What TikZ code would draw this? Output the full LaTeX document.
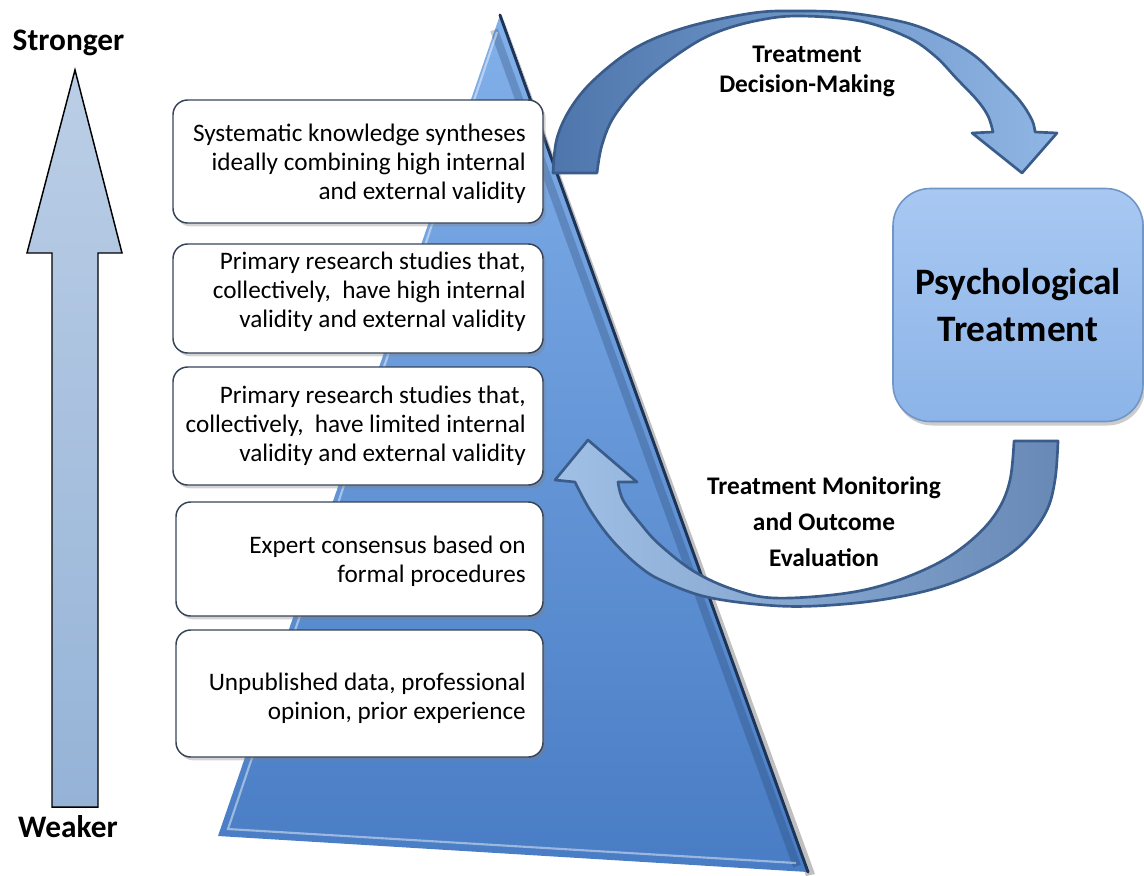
\documentclass[tikz,border=0pt]{standalone}
\usepackage{fontspec}
\setmainfont{Carlito}
\usetikzlibrary{shadows}
\definecolor{arrTop}{RGB}{187,206,230}
\definecolor{arrBot}{RGB}{149,179,215}
\definecolor{triTop}{RGB}{130,176,234}
\definecolor{triBot}{RGB}{72,124,196}
\definecolor{triEdge}{RGB}{28,52,88}
\definecolor{boxEdge}{RGB}{55,68,88}
\definecolor{cArrDark}{RGB}{78,118,172}
\definecolor{cArrLight}{RGB}{143,182,228}
\definecolor{cArrEdge}{RGB}{58,92,138}
\definecolor{cArrB1}{RGB}{160,192,230}
\definecolor{cArrB2}{RGB}{104,137,182}
\definecolor{psyTop}{RGB}{168,200,242}
\definecolor{psyBot}{RGB}{140,180,232}
\definecolor{psyEdge}{RGB}{112,150,200}
\tikzset{
  evbox/.style={draw=boxEdge, fill=white, line width=1.1pt, rounded corners=11pt,
    drop shadow={opacity=0.35, shadow xshift=2pt, shadow yshift=-2.5pt}},
  evtext/.style={anchor=east, align=right, inner sep=0pt,
    font=\fontsize{18.9}{21.75}\selectfont},
  lbl/.style={align=center, inner sep=0pt, font=\bfseries\fontsize{19}{22.5}\selectfont},
  curvarrow/.style={draw=cArrEdge, line width=2pt, line join=round},
}
\begin{document}
\begin{tikzpicture}[x=0.75pt,y=-0.75pt]
\useasboundingbox (0,0) rectangle (1144,875);

% strength arrow
\path[draw=black, line width=1.1pt, top color=arrTop, bottom color=arrBot, line join=miter]
  (75,70) -- (122,253) -- (98,253) -- (98,807) -- (52,807) -- (52,253) -- (27,253) -- cycle;
\node[anchor=base, inner sep=0pt, font=\bfseries\fontsize{23.5}{28}\selectfont] (strong) at (68.5,50) {Stronger};
\node[anchor=base, inner sep=0pt, font=\bfseries\fontsize{23.5}{28}\selectfont] (weak) at (68,837) {Weaker};

% pyramid
\fill[black, opacity=0.25] (504,20) -- (815,874) -- (806,876) -- cycle;
\shade[top color=triTop, bottom color=triBot] (500,15) -- (808,872) -- (218,836) -- cycle;
\draw[triEdge, opacity=0.25, line width=6pt] (494,30) -- (797,866);
\draw[white, opacity=0.45, line width=1.6pt] (497,32) -- (228,829) -- (796,863);
\draw[triEdge, line width=2.2pt, line cap=round] (500,15) -- (808,872);

% evidence boxes
\draw[evbox] (173,100) rectangle (543,223);
\draw[evbox] (173,244) rectangle (543,353);
\draw[evbox] (173,367) rectangle (543,485);
\draw[evbox] (176,502) rectangle (543,616);
\draw[evbox] (176,630) rectangle (543,757);

\node[evtext] (t1) at (526,164) {Systematic knowledge syntheses\\ideally combining high internal\\and external validity};
\node[evtext] (t2) at (526,292) {Primary research studies that,\\collectively,\ \ have high internal\\validity and external validity};
\node[evtext] (t3) at (526,426) {Primary research studies that,\\collectively,\ \ have limited internal\\validity and external validity};
\node[evtext] (t4) at (526,561) {Expert consensus based on\\formal procedures};
\node[evtext] (t5) at (526,698.5) {Unpublished data, professional\\opinion, prior experience};

% psychological treatment
\node[draw=psyEdge, line width=1.2pt, top color=psyTop, bottom color=psyBot,
  rounded corners=28pt, minimum width=187.5pt, minimum height=174.75pt,
  align=center, font=\bfseries\fontsize{28}{35}\selectfont,
  drop shadow={opacity=0.4, shadow xshift=1.5pt, shadow yshift=-3pt}]
  (psy) at (1018,305) {Psychological\\Treatment};

% top curved arrow
\path[curvarrow, left color=cArrDark, right color=cArrLight]
  (597,173) -- (553,173) -- plot[smooth, tension=0.6] coordinates {(553,173) (557,138) (572,106) (597,77) (637,47) (687,27) (753,13) (800,11) (850,13) (907,23) (945,38) (975,56) (1000,80) (1020,101) (1032,120) (1035,132)}
  -- (1057,133) -- (1022,173) -- (972,133) -- (993,132)
  -- plot[smooth, tension=0.6] coordinates {(993,132) (988,116) (977,100) (957,79) (935,56) (907,37) (860,21) (800,16) (760,20) (720,31) (687,48) (645,80) (615,115) (602,145) (597,173)}
  -- cycle;

% bottom curved arrow
\path[curvarrow, left color=cArrB1, right color=cArrB2]
  (1014,441) -- (1058,441) -- plot[smooth, tension=0.6] coordinates {(1058,441) (1055,480) (1046,512) (1023,543) (990,566) (940,587) (880,600) (815,606) (765,605) (707,597) (665,582) (640,567) (612,540) (590,510) (575,482)}
  -- (555,480) -- (588,440) -- (637,482) -- (618,482)
  -- plot[smooth, tension=0.6] coordinates {(618,482) (623,500) (640,523) (660,545) (695,572) (735,590) (775,598) (840,594) (890,583) (940,562) (975,537) (998,510) (1010,480) (1014,441)}
  -- cycle;

% arrow labels
\node[lbl] (dm) at (807,71) {Treatment\\Decision-Making};
\node[lbl, font=\bfseries\fontsize{19}{27}\selectfont] (mon) at (824,521.5) {Treatment Monitoring\\and Outcome\\Evaluation};
\end{tikzpicture}
\end{document}
